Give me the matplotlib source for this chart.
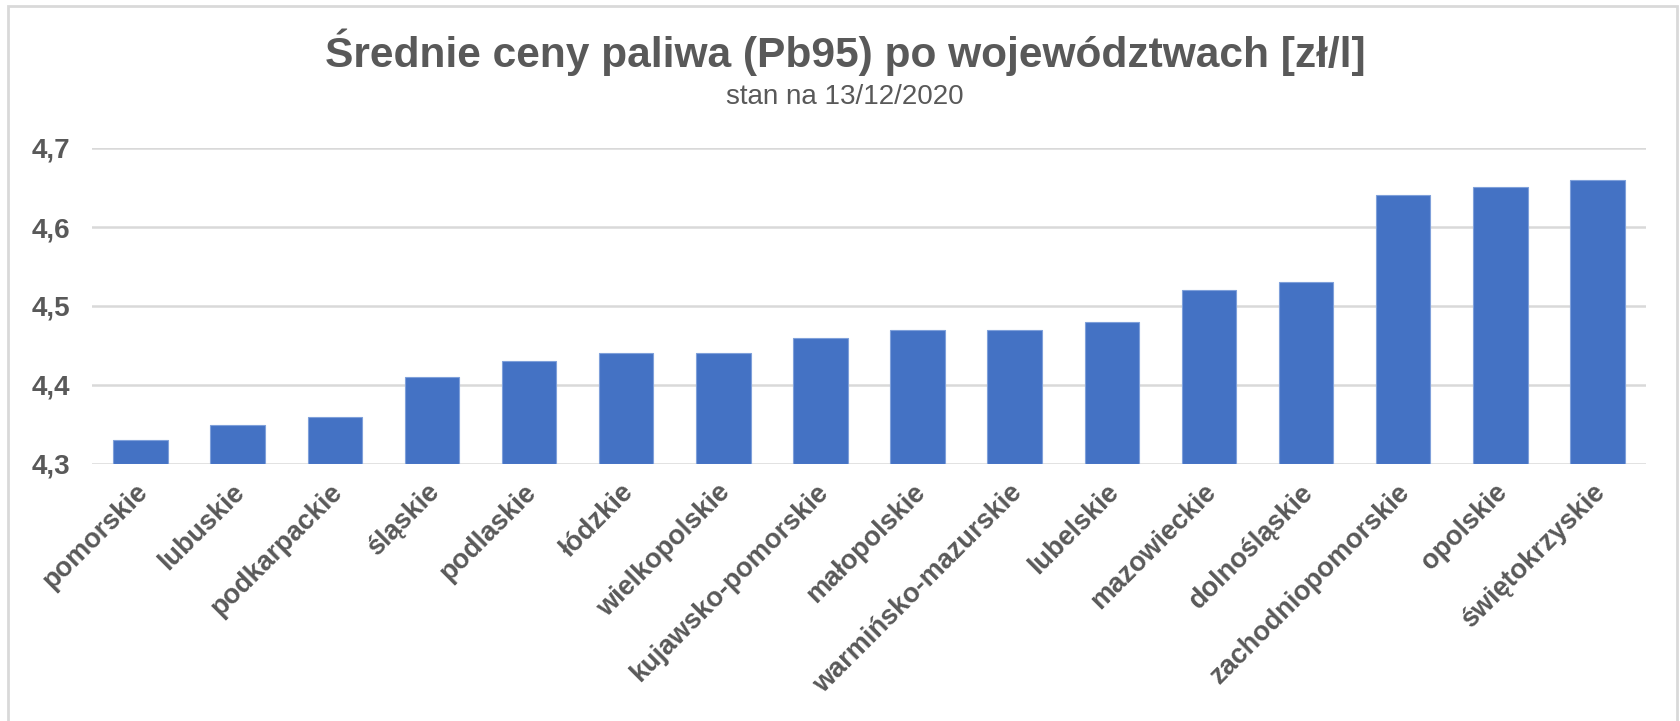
import matplotlib
matplotlib.use('Agg')
import matplotlib.pyplot as plt
from matplotlib.patches import Rectangle

# Data: average Pb95 prices per voivodeship, 13/12/2020
regions = ['pomorskie', 'lubuskie', 'podkarpackie', 'śląskie', 'podlaskie',
           'łódzkie', 'wielkopolskie', 'kujawsko-pomorskie', 'małopolskie',
           'warmińsko-mazurskie', 'lubelskie', 'mazowieckie', 'dolnośląskie',
           'zachodniopomorskie', 'opolskie', 'świętokrzyskie']
prices = [4.33, 4.35, 4.36, 4.41, 4.43, 4.44, 4.44, 4.46, 4.47,
          4.47, 4.48, 4.52, 4.53, 4.64, 4.65, 4.66]
y_ticks = [4.3, 4.4, 4.5, 4.6, 4.7]
y_tick_labels = ['4,3', '4,4', '4,5', '4,6', '4,7']

title = 'Średnie ceny paliwa (Pb95) po województwach [zł/l]'
subtitle = 'stan na 13/12/2020'

plt.rcParams['font.family'] = ['Liberation Sans', 'DejaVu Sans']
grey_text = '#595959'
grid_col = '#D9D9D9'
bar_col = '#4472C4'

W, H = 1681, 721
fig = plt.figure(figsize=(W / 100, H / 100), dpi=100)
fig.patch.set_facecolor('white')

# chart border
fig.patches.append(Rectangle((8 / W, -0.05), (1677 - 8) / W, 1.05 - 6 / H,
                             transform=fig.transFigure, fill=False,
                             edgecolor=grid_col, linewidth=2))

ax = fig.add_axes([92 / W, 1 - 464 / H, (1646 - 92) / W, (464 - 148) / H])
x = range(len(regions))
ax.bar(x, [p - y_ticks[0] for p in prices], bottom=y_ticks[0], width=0.56,
       color=bar_col, edgecolor='#7FA0DA', linewidth=0.8, zorder=3)

ax.set_xlim(-0.5, len(regions) - 0.5)
ax.set_ylim(y_ticks[0], y_ticks[-1])
ax.set_yticks(y_ticks)
ax.set_yticklabels(y_tick_labels)
ax.yaxis.grid(True, color=grid_col, linewidth=1.8, zorder=0)
ax.set_axisbelow(True)
for s in ax.spines.values():
    s.set_visible(False)

ax.tick_params(axis='y', length=0, pad=16, labelsize=20, labelcolor=grey_text)
ax.tick_params(axis='x', length=0, pad=11, labelsize=19.5, labelcolor=grey_text)
ax.set_xticks([i - 0.06 for i in x])
ax.set_xticklabels(regions, rotation=45, ha='right', rotation_mode='anchor')
for lbl in ax.get_yticklabels() + ax.get_xticklabels():
    lbl.set_fontweight('bold')

fig.text(845 / W, 1 - 67 / H, title, ha='center', va='baseline', fontsize=30.6,
         fontweight='bold', color=grey_text)
fig.text(845 / W, 1 - 104 / H, subtitle, ha='center', va='baseline', fontsize=20,
         color=grey_text)

fig.savefig('out.png', dpi=100)
